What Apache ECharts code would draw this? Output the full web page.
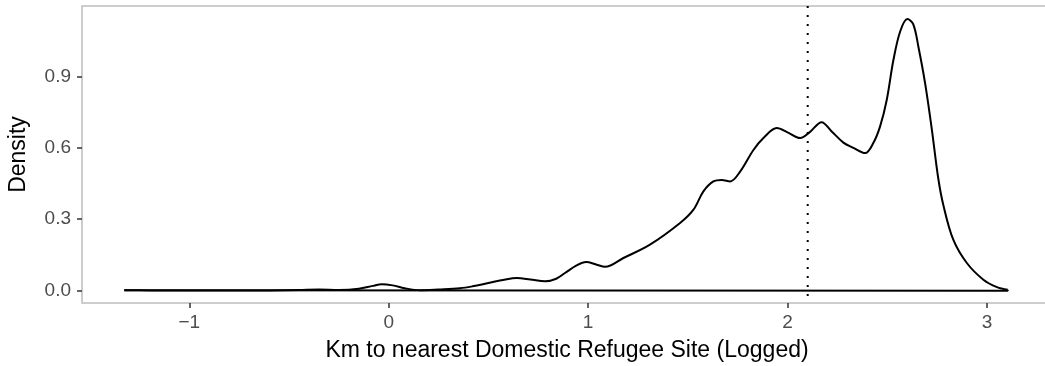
<!DOCTYPE html>
<html>
<head>
<meta charset="utf-8">
<script src="https://cdn.jsdelivr.net/npm/echarts@6/dist/echarts.min.js"></script>
<style>
  html, body { margin: 0; padding: 0; background: #ffffff; }
  #chart { width: 1045px; height: 366px; }
</style>
</head>
<body>
<div id="chart"></div>
<script>
// Kernel density of log10 distance (km) to the nearest domestic refugee site
const densX = [-1.326, -1.2, -1.0, -0.8, -0.6, -0.45, -0.35, -0.25, -0.15, -0.08, -0.035, 0.02, 0.08, 0.157,
  0.25, 0.357, 0.42, 0.5, 0.58, 0.642, 0.71, 0.784, 0.84, 0.884, 0.94, 0.99, 1.04, 1.085, 1.177, 1.31,
  1.461, 1.528, 1.578, 1.628, 1.67, 1.712, 1.762, 1.828, 1.879, 1.946, 2.0, 2.063, 2.11, 2.171, 2.22,
  2.28, 2.33, 2.389, 2.43, 2.464, 2.497, 2.531, 2.565, 2.601, 2.63, 2.656, 2.69, 2.723, 2.756, 2.781,
  2.831, 2.899, 2.982, 3.05, 3.104];
const densY = [0.002, 0.001, 0.0005, 0.0005, 0.001, 0.003, 0.005, 0.003, 0.008, 0.02, 0.027, 0.022, 0.01, 0.002,
  0.005, 0.010, 0.018, 0.032, 0.046, 0.053, 0.047, 0.039, 0.05, 0.074, 0.105, 0.12, 0.11, 0.10, 0.137, 0.193,
  0.284, 0.34, 0.417, 0.459, 0.465, 0.459, 0.50, 0.59, 0.641, 0.683, 0.665, 0.641, 0.665, 0.708, 0.67,
  0.622, 0.60, 0.578, 0.62, 0.69, 0.80, 0.97, 1.09, 1.141, 1.12, 1.025, 0.87, 0.68, 0.47, 0.36,
  0.214, 0.116, 0.046, 0.015, 0.004];

// Reference line (dotted) position on the x axis
const refLineX = 2.101;

const xTicks = [-1, 0, 1, 2, 3];
const yTicks = [0.0, 0.3, 0.6, 0.9];

const xTitle = 'Km to nearest Domestic Refugee Site (Logged)';
const yTitle = 'Density';

const xMin = -1.538, xMax = 3.326;
const yMin = -0.052, yMax = 1.196;

const curve = densX.map((x, i) => [x, densY[i]]);
const first = curve[0], last = curve[curve.length - 1];
// closing edge of the density outline along zero
const baseline = [[first[0], first[1]], [first[0], 0], [last[0], 0], [last[0], last[1]]];

const chart = echarts.init(document.getElementById('chart'), null, { renderer: 'canvas' });

const tickStyle = { color: '#333333', width: 1.5 };
const labelFont = 'Liberation Sans, Arial, sans-serif';

chart.setOption({
  animation: false,
  backgroundColor: '#ffffff',
  grid: {
    left: 82, top: 6, width: 970, height: 297,
    outerBoundsMode: 'none', containLabel: false,
    show: true, borderColor: '#bdbdbd', borderWidth: 1.5, backgroundColor: 'transparent'
  },
  xAxis: {
    type: 'value', min: xMin, max: xMax,
    axisLine: { show: false, onZero: false },
    splitLine: { show: false },
    axisTick: { show: true, length: 5, lineStyle: tickStyle, customValues: xTicks },
    axisLabel: {
      customValues: xTicks, margin: 10, color: '#4d4d4d', fontSize: 19, fontFamily: labelFont,
      formatter: v => (v < 0 ? '\u2212' + Math.abs(v) : String(v))
    },
    name: xTitle, nameLocation: 'middle', nameGap: 36,
    nameTextStyle: { color: '#000000', fontSize: 23, fontFamily: labelFont }
  },
  yAxis: {
    type: 'value', min: yMin, max: yMax,
    axisLine: { show: false, onZero: false },
    splitLine: { show: false },
    axisTick: { show: true, length: 5, lineStyle: tickStyle, customValues: yTicks },
    axisLabel: {
      customValues: yTicks, margin: 11, color: '#4d4d4d', fontSize: 19, fontFamily: labelFont,
      formatter: v => v.toFixed(1)
    },
    name: yTitle, nameLocation: 'middle', nameGap: 52, nameRotate: 90,
    nameTextStyle: { color: '#000000', fontSize: 23, fontFamily: labelFont }
  },
  series: [
    {
      type: 'line', data: baseline, symbol: 'none', smooth: false,
      lineStyle: { color: '#000000', width: 2 }, z: 3
    },
    {
      type: 'line', data: curve, symbol: 'none', smooth: 0.35,
      lineStyle: { color: '#000000', width: 2 }, z: 4
    },
    {
      type: 'line', data: [[refLineX, yMax], [refLineX, yMin]], symbol: 'none',
      lineStyle: { color: '#000000', width: 2, type: [2, 7] }, z: 2
    }
  ]
});
</script>
</body>
</html>
